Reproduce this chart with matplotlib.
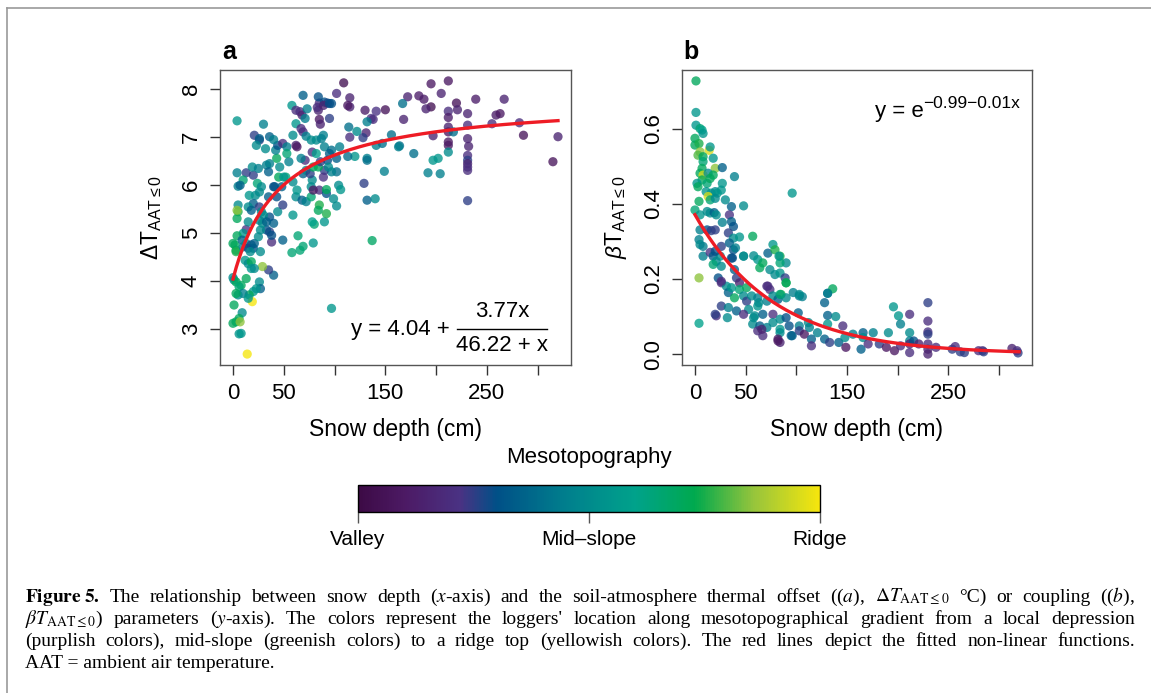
import numpy as np
import matplotlib
matplotlib.use("Agg")
import matplotlib.pyplot as plt
from matplotlib.colors import LinearSegmentedColormap, Normalize
from matplotlib.cm import ScalarMappable
from matplotlib.lines import Line2D

plt.rcParams['font.family'] = ['Liberation Sans', 'DejaVu Sans']
plt.rcParams['mathtext.fontset'] = 'custom'
plt.rcParams['mathtext.rm'] = 'Liberation Sans'
plt.rcParams['mathtext.it'] = 'Liberation Sans:italic'
plt.rcParams['mathtext.bf'] = 'Liberation Sans:bold'

# panel a: snow depth vs thermal offset, colour = mesotopography (0 valley .. 1 ridge)
a_x = [109, 195, 212, 172, 183, 188, 205, 195, 190, 220, 221, 212, 239, 267, 231, 259, 263, 255, 282, 286,
       320, 315, 212, 212, 212, 212, 212, 212, 217, 231, 231, 232, 231, 231, 231, 231, 231, 231, 197, 168,
       167, 156, 141, 150, 130, 131, 136, 138, 132, 128, 141, 147, 132, 132, 164, 163, 178, 192, 204, 197,
       202, 149, 129, 132, 140, 137, 97, 115, 115, 113, 114, 115, 122, 120, 113, 102, 95, 97, 105, 102,
       102, 97, 90, 89, 85, 92, 92, 99, 102, 104, 106, 90, 92, 85, 84, 80, 78, 79, 69, 66,
       64, 58, 59, 49, 40, 35, 38, 36, 38, 33, 40, 44, 36, 43, 49, 48, 41, 45, 43, 46,
       42, 44, 49, 53, 52, 50, 55, 59, 62, 63, 68, 72, 77, 77, 79, 78, 69, 72, 76, 79,
       84, 86, 78, 71, 67, 62, 63, 59, 58, 62, 66, 68, 69, 73, 71, 62, 67, 69, 72, 77,
       82, 87, 89, 84, 85, 86, 83, 85, 84, 90, 93, 89, 95, 90, 97, 95, 93, 94, 82, 4,
       30, 21, 26, 26, 36, 40, 33, 36, 32, 4, 13, 20, 19, 25, 10, 5, 7, 24, 28, 26,
       22, 16, 20, 15, 18, 5, 5, 4, 4, 26, 28, 30, 26, 29, 33, 13, 15, 10, 4, 0,
       2, 3, 3, 9, 10, 13, 15, 18, 20, 21, 17, 25, 27, 27, 12, 15, 18, 29, 18, 21,
       0, 1, 3, 8, 6, 13, 26, 27, 23, 20, 16, 10, 5, 3, 19, 15, 1, 9, 6, 3,
       0, 7, 6, 8, 14, 23, 35, 40, 35, 53]
a_y = [8.12, 8.10, 8.16, 7.83, 7.85, 7.78, 7.90, 7.62, 7.58, 7.70, 7.56, 7.53, 7.78, 7.78, 7.48, 7.45, 7.48, 7.27, 7.29, 7.03,
       7.00, 6.48, 7.40, 7.20, 7.10, 6.89, 6.82, 6.68, 7.10, 7.24, 6.96, 6.80, 6.61, 6.51, 6.44, 6.37, 6.30, 5.67, 7.02, 7.36,
       7.69, 7.04, 7.53, 7.56, 7.55, 7.08, 7.38, 7.36, 7.31, 6.98, 6.82, 6.86, 6.55, 6.51, 6.81, 6.79, 6.65, 6.25, 6.23, 6.51,
       6.55, 6.28, 6.03, 5.68, 5.71, 4.84, 3.43, 7.62, 7.81, 7.65, 7.20, 6.99, 7.11, 6.59, 6.59, 7.90, 7.38, 7.69, 6.79, 6.55,
       6.27, 6.27, 6.30, 6.16, 5.89, 5.82, 5.90, 5.71, 5.56, 5.99, 5.90, 5.23, 5.40, 5.58, 5.47, 5.18, 5.23, 4.79, 4.72, 4.64,
       4.94, 4.59, 5.37, 4.85, 4.12, 4.23, 4.81, 5.02, 4.95, 5.06, 5.20, 5.44, 5.33, 5.75, 5.58, 5.96, 5.96, 6.16, 6.55, 6.37,
       6.72, 6.82, 6.86, 6.79, 6.16, 6.16, 6.48, 6.06, 5.75, 5.89, 5.68, 5.65, 5.75, 5.96, 5.89, 6.10, 6.23, 6.30, 6.23, 6.37,
       6.37, 6.48, 6.68, 6.51, 6.55, 6.82, 6.79, 7.03, 7.65, 7.55, 7.52, 7.45, 7.86, 7.58, 7.38, 7.27, 7.17, 7.10, 7.01, 6.93,
       6.93, 6.96, 7.03, 7.55, 7.36, 7.26, 7.61, 7.70, 7.83, 7.72, 7.70, 7.65, 7.69, 6.79, 6.72, 6.65, 6.51, 6.37, 6.65, 7.33,
       7.26, 7.03, 6.93, 6.96, 7.00, 6.94, 6.41, 6.44, 6.75, 6.25, 6.25, 6.20, 6.37, 6.34, 6.10, 5.97, 5.99, 6.03, 5.96, 5.85,
       5.78, 5.78, 5.61, 5.54, 5.47, 5.58, 5.44, 5.30, 5.47, 5.54, 5.44, 5.37, 5.26, 5.20, 5.23, 5.07, 5.23, 4.99, 4.94, 4.78,
       4.75, 4.64, 4.61, 4.85, 4.71, 4.78, 4.68, 4.75, 4.68, 4.78, 4.61, 4.92, 5.06, 4.61, 4.43, 4.36, 4.40, 4.30, 4.26, 4.26,
       4.07, 4.02, 3.98, 3.91, 3.88, 4.05, 3.98, 3.84, 3.84, 3.78, 3.71, 3.74, 3.71, 3.74, 3.57, 3.64, 3.50, 3.34, 3.22, 3.15,
       3.12, 3.15, 2.90, 2.91, 2.48, 6.82, 6.27, 5.96, 5.75, 6.65]
a_c = [.05, .10, .10, .15, .12, .12, .15, .05, .15, .07, .15, .20, .12, .15, .15, .12, .10, .20, .20, .08,
       .15, .08, .12, .15, .10, .10, .10, .50, .40, .20, .15, .15, .20, .25, .15, .20, .20, .25, .15, .15,
       .40, .40, .22, .07, .12, .15, .22, .20, .45, .25, .45, .40, .45, .40, .40, .45, .40, .45, .45, .55,
       .55, .45, .25, .35, .50, .68, .55, .15, .15, .10, .40, .20, .50, .55, .40, .20, .25, .30, .45, .35,
       .40, .45, .25, .22, .20, .30, .70, .50, .50, .50, .55, .55, .75, .75, .70, .65, .60, .55, .65, .65,
       .65, .65, .55, .35, .35, .25, .20, .25, .30, .30, .35, .50, .30, .30, .25, .35, .35, .70, .70, .50,
       .45, .30, .20, .45, .65, .55, .45, .50, .50, .55, .35, .45, .65, .50, .10, .50, .35, .50, .25, .70,
       .70, .25, .20, .20, .45, .15, .10, .50, .55, .20, .20, .15, .35, .45, .45, .55, .20, .20, .45, .50,
       .50, .45, .45, .15, .10, .15, .20, .20, .30, .30, .27, .15, .30, .45, .40, .35, .30, .50, .60, .55,
       .45, .25, .25, .35, .35, .45, .45, .45, .50, .45, .25, .25, .50, .45, .65, .45, .35, .65, .50, .50,
       .50, .55, .35, .50, .35, .50, .75, .70, .85, .25, .50, .50, .45, .50, .35, .22, .50, .55, .70, .70,
       .70, .70, .75, .35, .45, .50, .28, .28, .30, .35, .50, .50, .50, .50, .55, .50, .70, .85, .55, .50,
       .50, .50, .70, .70, .65, .70, .50, .35, .55, .55, .70, .45, .50, .70, 1.0, .55, .70, .50, .70, .70,
       .70, .85, .55, .55, 1.0, .50, .35, .30, .35, .65]

# panel b: snow depth vs coupling
b_x = [1, 1, 1, 5, 7, 8, 0, 0, 4, 5, 14, 15, 18, 3, 8, 8, 7, 20, 5, 8,
       13, 18, 7, 2, 3, 12, 15, 27, 39, 11, 16, 20, 22, 27, 26, 13, 15, 20, 30, 4,
       0, 5, 12, 15, 19, 21, 36, 48, 34, 36, 27, 38, 5, 12, 16, 20, 33, 4, 5, 8,
       26, 38, 44, 34, 38, 36, 8, 15, 18, 21, 25, 18, 26, 48, 57, 58, 62, 67, 64, 72,
       77, 79, 84, 90, 84, 96, 74, 79, 84, 89, 90, 85, 39, 41, 44, 44, 51, 23, 26, 31,
       33, 36, 39, 48, 51, 56, 62, 62, 71, 71, 74, 77, 82, 90, 97, 103, 106, 26, 33, 41,
       53, 21, 32, 48, 59, 67, 77, 84, 90, 102, 57, 64, 71, 77, 84, 93, 103, 62, 67, 84,
       82, 84, 96, 103, 108, 112, 113, 115, 115, 121, 128, 131, 136, 131, 139, 131, 128, 133, 142, 146,
       148, 149, 156, 164, 166, 166, 171, 176, 182, 191, 196, 201, 203, 189, 197, 203, 212, 212, 212, 212,
       212, 216, 221, 230, 230, 230, 230, 230, 230, 230, 238, 254, 257, 262, 266, 280, 284, 285, 313, 319,
       318, 83, 90, 84, 72, 63, 58, 66, 82, 95, 103, 131, 26, 20, 4, 4, 40, 48, 37, 20]
b_y = [.728, .644, .610, .601, .597, .588, .575, .557, .561, .539, .543, .552, .522, .530, .526, .513, .495, .495, .482, .477,
       .482, .477, .464, .455, .446, .455, .468, .497, .473, .433, .429, .433, .429, .455, .437, .420, .411, .415, .411, .407,
       .384, .371, .380, .376, .377, .371, .393, .395, .371, .353, .351, .340, .331, .331, .329, .331, .323, .305, .292, .287,
       .287, .309, .312, .296, .278, .256, .261, .271, .261, .247, .261, .239, .234, .261, .314, .262, .252, .243, .230, .269,
       .292, .278, .261, .243, .243, .429, .225, .212, .216, .203, .190, .159, .225, .203, .190, .172, .177, .203, .190, .181,
       .164, .177, .150, .155, .141, .155, .150, .128, .141, .181, .172, .155, .146, .150, .164, .155, .153, .128, .124, .115,
       .119, .102, .097, .106, .102, .106, .106, .093, .097, .110, .080, .075, .071, .084, .066, .075, .075, .062, .049, .057,
       .040, .031, .049, .062, .053, .084, .071, .040, .022, .057, .137, .162, .174, .103, .100, .080, .040, .031, .031, .075,
       .044, .018, .053, .013, .057, .044, .027, .057, .027, .057, .126, .102, .080, .018, .009, .022, .106, .057, .035, .027,
       .004, .035, .027, .137, .088, .059, .053, .027, .013, .000, .018, .013, .020, .006, .004, .009, .009, .006, .015, .003,
       .009, .261, .190, .159, .181, .137, .097, .066, .035, .049, .159, .162, .194, .106, .082, .203, .283, .261, .256, .274]
b_c = [.70, .55, .55, .65, .60, .55, .70, .70, .75, .85, .95, .55, .55, .80, .70, .65, .70, .85, .70, .95,
       .50, .70, .70, .55, .70, .65, .70, .35, .45, .55, .55, .50, .55, .55, .55, .95, .65, .50, .50, .70,
       .65, .55, .50, .50, .35, .50, .35, .50, .22, .35, .45, .30, .45, .30, .25, .25, .25, .45, .50, .45,
       .25, .50, .55, .35, .30, .28, .45, .22, .35, .50, .50, .65, .50, .50, .70, .50, .55, .70, .70, .35,
       .55, .75, .75, .50, .65, .55, .50, .50, .55, .25, .75, .75, .35, .25, .15, .65, .70, .30, .20, .50,
       .35, .55, .70, .50, .25, .50, .45, .55, .45, .20, .20, .50, .35, .50, .45, .45, .45, .25, .45, .35,
       .50, .20, .50, .20, .50, .35, .20, .50, .30, .35, .50, .35, .45, .50, .55, .30, .45, .20, .20, .50,
       .10, .15, .35, .25, .10, .50, .45, .35, .20, .45, .35, .35, .70, .35, .50, .55, .35, .25, .35, .20,
       .50, .10, .45, .35, .35, .50, .20, .45, .25, .50, .55, .55, .45, .10, .10, .20, .20, .50, .45, .15,
       .20, .30, .15, .25, .20, .22, .25, .20, .15, .15, .20, .25, .20, .25, .25, .20, .20, .25, .15, .25,
       .20, .55, .70, .65, .20, .50, .50, .15, .10, .35, .50, .45, .20, .25, .60, .85, .45, .50, .30, .30]

# fitted curves as printed in the panels
fit_a = (4.04, 3.77, 46.22)
fit_b = (-0.99, -0.0128)
x_fit = np.linspace(0, 320, 200)

cmap_pos = [0, 0.1, 0.22, 0.3, 0.45, 0.6, 0.73, 0.86, 1.0]
cmap_col = ["#3c0a45", "#4c1a64", "#4a3283", "#005087", "#007f8d", "#00a28b", "#00a94e", "#98c53b", "#f6e60d"]
meso = LinearSegmentedColormap.from_list("meso", list(zip(cmap_pos, cmap_col)))
norm = Normalize(0, 1)

fig = plt.figure(figsize=(11.51, 6.93), dpi=100)
ax_a = fig.add_axes([220 / 1151, 1 - 365 / 693, 351 / 1151, 295 / 693])
ax_b = fig.add_axes([682 / 1151, 1 - 365 / 693, 350 / 1151, 295 / 693])

for ax in (ax_a, ax_b):
    for s in ax.spines.values():
        s.set_color("#555555")
        s.set_linewidth(1.0)
    ax.tick_params(direction='out', length=7, width=1, color='#333333', labelsize=16, pad=6)
    ax.tick_params(axis='y', labelrotation=90)
    ax.margins(x=0.04, y=0.04)
    ax.set_xticks([0, 50, 100, 150, 200, 250, 300])
    ax.set_xticklabels(['0', '50', '', '150', '', '250', ''])
    ax.set_xlabel('Snow depth (cm)', fontsize=16.5, labelpad=10)

ax_a.scatter(a_x, a_y, c=a_c, cmap=meso, norm=norm, s=44, alpha=0.78, linewidths=0, zorder=2)
ax_a.plot(x_fit, fit_a[0] + fit_a[1] * x_fit / (fit_a[2] + x_fit), color='#ee1c25', lw=2.4, zorder=3)
ax_a.set_yticks([3, 4, 5, 6, 7, 8])
ax_a.set_ylabel(r'$\Delta\mathrm{T}_{\mathrm{AAT}\leq0}$', fontsize=16.5, labelpad=12)
ax_a.text(0.005, 1.062, 'a', transform=ax_a.transAxes, fontsize=18, fontweight='bold', va='center', ha='left')
ax_a.text(0.655, 0.122, 'y = 4.04 +', transform=ax_a.transAxes, fontsize=16, ha='right', va='center')
ax_a.text(0.803, 0.181, '3.77x', transform=ax_a.transAxes, fontsize=16, ha='center', va='center')
ax_a.text(0.803, 0.066, '46.22 + x', transform=ax_a.transAxes, fontsize=16, ha='center', va='center')
ax_a.plot([0.674, 0.931], [0.122, 0.122], transform=ax_a.transAxes, color='black', lw=1)

ax_b.scatter(b_x, b_y, c=b_c, cmap=meso, norm=norm, s=44, alpha=0.78, linewidths=0, zorder=2)
ax_b.plot(x_fit, np.exp(fit_b[0] + fit_b[1] * x_fit), color='#ee1c25', lw=2.4, zorder=3)
ax_b.set_yticks([0, 0.2, 0.4, 0.6])
ax_b.set_yticklabels(['0.0', '0.2', '0.4', '0.6'])
ax_b.set_ylabel(r'$\beta\mathrm{T}_{\mathrm{AAT}\leq0}$', fontsize=16.5, labelpad=10)
ax_b.text(0.003, 1.062, 'b', transform=ax_b.transAxes, fontsize=18, fontweight='bold', va='center', ha='left')
t_eq = ax_b.text(0.551, 0.858, 'y = e', transform=ax_b.transAxes, fontsize=16, ha='left', va='center')
ax_b.annotate('\u22120.99\u22120.01x', xy=(1, 0.55), xycoords=t_eq, fontsize=12.5, ha='left', va='bottom')

for ax in (ax_a, ax_b):
    for lab in ax.get_yticklabels():
        lab.set_va('center')

# colour bar
cax = fig.add_axes([358 / 1151, 1 - 512 / 693, 462 / 1151, 27 / 693])
cb = fig.colorbar(ScalarMappable(norm=norm, cmap=meso), cax=cax, orientation='horizontal')
cb.outline.set_linewidth(1)
cb.set_ticks([0, 0.5, 1])
cb.set_ticklabels(['Valley', 'Mid\u2013slope', 'Ridge'])
cax.tick_params(length=8, width=1, color='#555555', labelsize=15, pad=5)
fig.text(589 / 1151, 1 - 458 / 693, 'Mesotopography', fontsize=16, ha='center', va='center')

# caption, first three lines justified between x=25 and x=1135 px
cap = [
    r"$\mathbf{Figure\;5.}$ The relationship between snow depth ($x$-axis) and the soil-atmosphere thermal offset (($a$), $\Delta{T}_{\mathrm{AAT}\leq0}$ °C) or coupling (($b$),",
    r"$\beta{T}_{\mathrm{AAT}\leq0}$) parameters ($y$-axis). The colors represent the loggers' location along mesotopographical gradient from a local depression",
    "(purplish colors), mid-slope (greenish colors) to a ridge top (yellowish colors). The red lines depict the fitted non-linear functions.",
    "AAT = ambient air temperature.",
]
cap_y = [597, 619, 641, 663]
cap_kw = dict(fontsize=14, family='Liberation Serif', math_fontfamily='stix', ha='left', va='center')
renderer = fig.canvas.get_renderer()
x0, x1 = 25, 1135
for i, (line, yy) in enumerate(zip(cap, cap_y)):
    yf = 1 - yy / 693
    if i == len(cap) - 1:
        fig.text(x0 / 1151, yf, line, **cap_kw)
        continue
    words = line.split(' ')
    texts = [fig.text(0, yf, w, **cap_kw) for w in words]
    widths = [t.get_window_extent(renderer).width for t in texts]
    gap = (x1 - x0 - sum(widths)) / (len(words) - 1)
    xp = x0
    for t, w in zip(texts, widths):
        t.set_x(xp / 1151)
        xp += w + gap

# page frame
fig.add_artist(Line2D([7 / 1151, 1], [1 - 8 / 693, 1 - 8 / 693], color='#999999', lw=1.2))
fig.add_artist(Line2D([7 / 1151, 7 / 1151], [0, 1 - 8 / 693], color='#999999', lw=1.2))

fig.savefig('out.png', dpi=100)
